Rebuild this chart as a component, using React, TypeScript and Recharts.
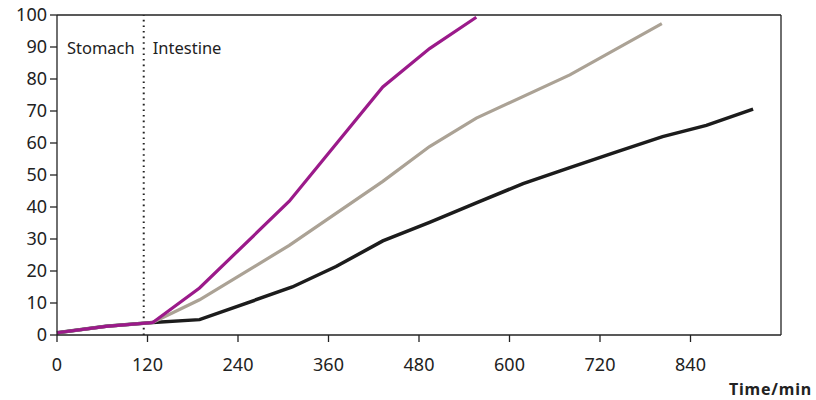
import { LineChart, Line, XAxis, YAxis, ReferenceLine, Label } from "recharts";

const X_TICKS = [0, 120, 240, 360, 480, 600, 720, 840];
const Y_TICKS = [0, 10, 20, 30, 40, 50, 60, 70, 80, 90, 100];

const purpleTime = [0, 65, 127, 189, 308, 432, 494, 556];
const purpleVal = [0.7, 2.7, 3.9, 14.7, 41.8, 77.5, 89.5, 99.3];

const greyTime = [0, 65, 127, 189, 308, 370, 432, 494, 556, 680, 802];
const greyVal = [0.7, 2.7, 3.9, 11, 28, 38, 48, 58.9, 67.8, 81.3, 97.3];

const blackTime = [0, 65, 127, 189, 312, 370, 432, 494, 556, 618, 680, 742, 803, 861, 923];
const blackVal = [0.7, 2.7, 3.9, 4.8, 15, 21.4, 29.4, 35.2, 41.3, 47.3, 52.3, 57.2, 62, 65.5, 70.6];

const STOMACH_END = 115;

const FONT = "'Noto Sans', 'Open Sans', sans-serif";
const INK = "#222";

const toPoints = (ts: number[], vs: number[]) => ts.map((t, i) => ({ t, v: vs[i] }));

const purpleData = toPoints(purpleTime, purpleVal);
const greyData = toPoints(greyTime, greyVal);
const blackData = toPoints(blackTime, blackVal);

function PhaseLabels({ viewBox }: any) {
  if (!viewBox) return null;
  const x = viewBox.x;
  return (
    <g style={{ fontFamily: FONT, fontSize: 16.5 }} fill={INK}>
      <text x={x - 9} y={54} textAnchor="end">Stomach</text>
      <text x={x + 9} y={54} textAnchor="start">Intestine</text>
    </g>
  );
}

export default function App() {
  return (
    <div style={{ position: "absolute", left: 0, top: 0, background: "#fff" }}>
      <LineChart
        width={816}
        height={400}
        margin={{ top: 15, right: 35, left: 0, bottom: 35 }}
      >
        <XAxis
          type="number"
          dataKey="t"
          domain={[0, 960]}
          ticks={X_TICKS}
          allowDuplicatedCategory={false}
          height={30}
          tickSize={7}
          tickMargin={16}
          stroke={INK}
          strokeWidth={1.3}
          tick={{ fill: INK, fontSize: 18, fontFamily: FONT }}
        >
          <Label
            content={() => (
              <text
                x={812}
                y={395}
                textAnchor="end"
                fill={INK}
                style={{ fontFamily: FONT, fontSize: 16, fontWeight: 700, letterSpacing: 0.8 }}
              >
                Time/min
              </text>
            )}
          />
        </XAxis>
        <YAxis
          type="number"
          domain={[0, 100]}
          ticks={Y_TICKS}
          width={57}
          tickSize={7}
          tickMargin={3}
          stroke={INK}
          strokeWidth={1.3}
          tick={{ fill: INK, fontSize: 18, fontFamily: FONT }}
        />
        <ReferenceLine y={100} stroke={INK} strokeWidth={1.3} />
        <ReferenceLine x={960} stroke={INK} strokeWidth={1.3} />
        <ReferenceLine
          x={STOMACH_END}
          stroke={INK}
          strokeWidth={2}
          strokeDasharray="1.6 4"
          label={<PhaseLabels />}
        />
        <Line
          data={blackData}
          dataKey="v"
          type="linear"
          stroke="#1c1c1c"
          strokeWidth={3.5}
          dot={false}
          isAnimationActive={false}
        />
        <Line
          data={greyData}
          dataKey="v"
          type="linear"
          stroke="#aba295"
          strokeWidth={3.2}
          dot={false}
          isAnimationActive={false}
        />
        <Line
          data={purpleData}
          dataKey="v"
          type="linear"
          stroke="#9b1a8a"
          strokeWidth={3.2}
          dot={false}
          isAnimationActive={false}
        />
      </LineChart>
    </div>
  );
}
